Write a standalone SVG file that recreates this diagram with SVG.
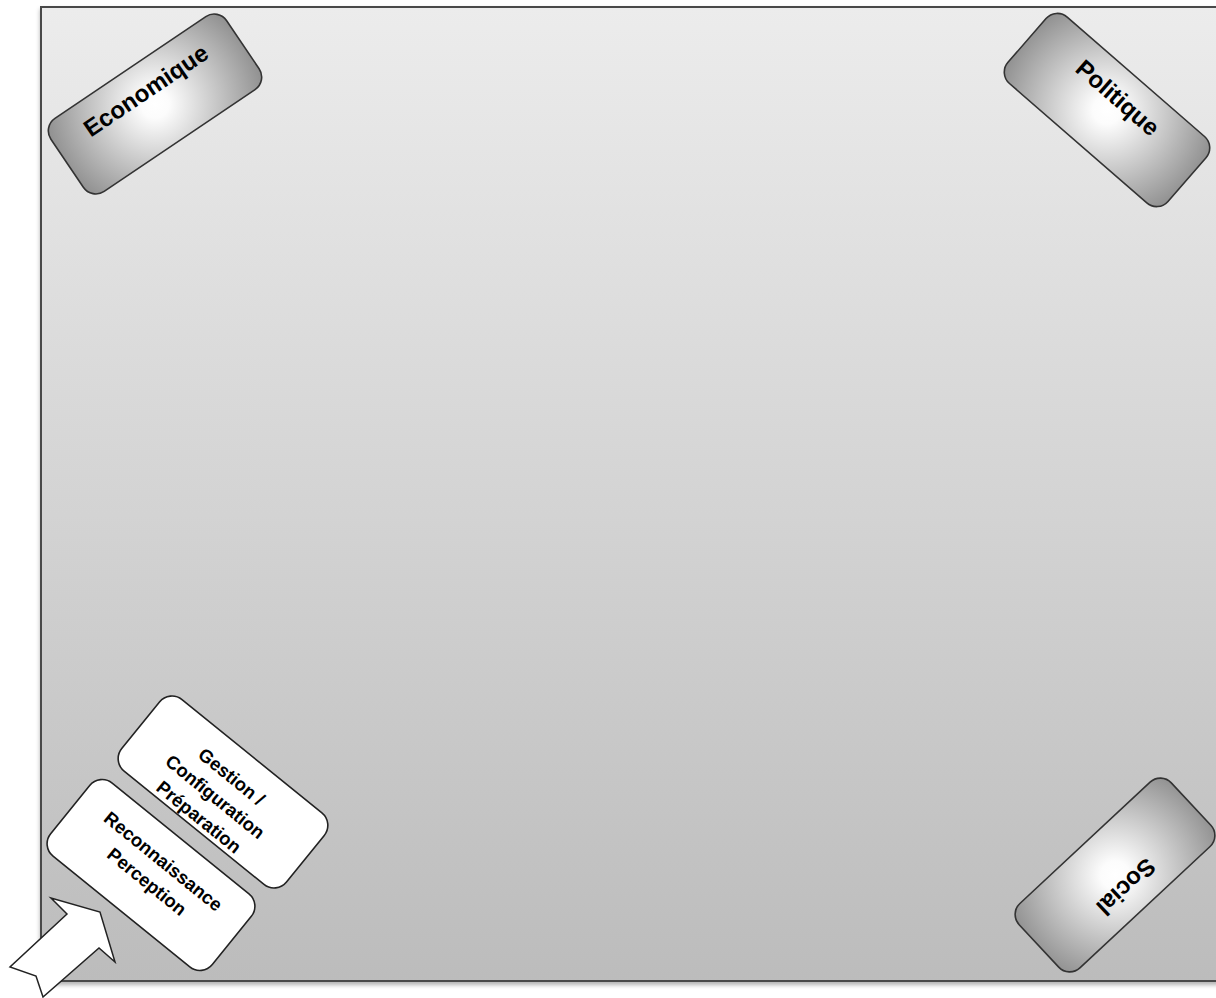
<svg xmlns="http://www.w3.org/2000/svg" width="1216" height="998" viewBox="0 0 1216 998">
  <defs>
    <linearGradient id="bg" x1="0" y1="0" x2="0" y2="1">
      <stop offset="0" stop-color="#ececec"/>
      <stop offset="1" stop-color="#bcbcbc"/>
    </linearGradient>
    <radialGradient id="gr" gradientUnits="userSpaceOnUse" cx="0" cy="0" r="118">
      <stop offset="0" stop-color="#ffffff"/>
      <stop offset="0.12" stop-color="#fcfcfc"/>
      <stop offset="1" stop-color="#888888"/>
    </radialGradient>
    <filter id="sh" x="-5%" y="-5%" width="110%" height="110%">
      <feDropShadow dx="0" dy="3" stdDeviation="2" flood-color="#000" flood-opacity="0.3"/>
    </filter>
    <style>
      .dark { fill: url(#gr); stroke: #333; stroke-width: 1.6; }
      .light { fill: #ffffff; stroke: #222; stroke-width: 1.6; }
      .big { font-family: "Liberation Sans", Arial, sans-serif; font-weight: bold; font-size: 24px; fill: #000; text-anchor: middle; }
      .small { font-family: "Liberation Sans", Arial, sans-serif; font-weight: bold; font-size: 18.5px; fill: #000; text-anchor: middle; }
    </style>
  </defs>

  <g id="background">
    <rect x="41" y="7" width="1200" height="974" fill="url(#bg)" stroke="#4a4a4a" stroke-width="2" filter="url(#sh)"/>
  </g>

  <g id="economique" transform="translate(155,104) rotate(-34)">
    <rect class="dark" x="-106" y="-44" width="212" height="88" rx="15"/>
    <text class="big" x="0" y="-8">Economique</text>
  </g>

  <g id="politique" transform="translate(1107,110) rotate(41)">
    <rect class="dark" x="-106" y="-44" width="212" height="88" rx="15"/>
    <text class="big" x="0" y="-8">Politique</text>
  </g>

  <g id="social" transform="translate(1115,875) rotate(137)">
    <rect class="dark" x="-104" y="-44" width="208" height="88" rx="15"/>
    <text class="big" x="0" y="-8">Social</text>
  </g>

  <g id="gestion" transform="translate(223,792) rotate(39)">
    <rect class="light" x="-106" y="-46" width="212" height="92" rx="16"/>
    <text class="small" x="-3" y="-11">Gestion /</text>
    <text class="small" x="-3" y="15">Configuration</text>
    <text class="small" x="-3" y="41">Préparation</text>
  </g>

  <g id="reconnaissance" transform="translate(151,875) rotate(39)">
    <rect class="light" x="-104" y="-47" width="208" height="94" rx="16"/>
    <text class="small" x="1" y="-12">Reconnaissance</text>
    <text class="small" x="1" y="14">Perception</text>
  </g>

  <g id="connectors">
    <polygon points="67,914 51,898 100,912 115,962 99,948 43,997 36,976 10,967" fill="#ffffff" stroke="#222" stroke-width="1.5" stroke-linejoin="miter"/>
  </g>
</svg>
